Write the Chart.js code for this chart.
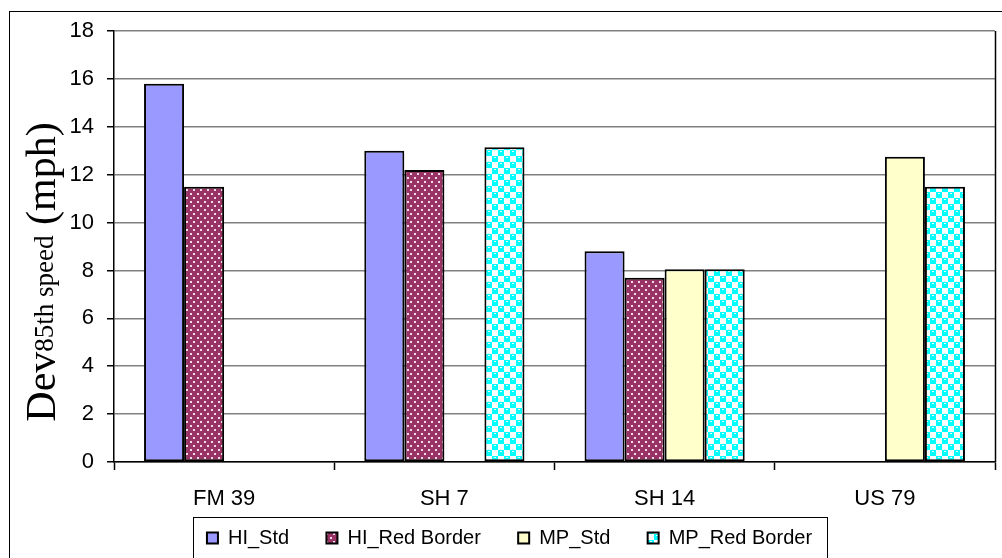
<!DOCTYPE html>
<html lang="en">
<head>
  <meta charset="UTF-8">
  <title>Dev 85th speed</title>
  <script src="https://cdn.jsdelivr.net/npm/chart.js"></script>
  <style>
    body { margin: 0; background: #fff; }
    #devChart { display: block; }
  </style>
</head>
<body>
<canvas id="devChart" width="1002" height="558"></canvas>
<script>
  const sites = ['FM 39', 'SH 7', 'SH 14', 'US 79'];
  const hiStd = [15.8, 13.0, 8.8, null];
  const hiRedBorder = [11.5, 12.2, 7.7, null];
  const mpStd = [null, null, 8.05, 12.75];
  const mpRedBorder = [null, 13.15, 8.05, 11.5];

  // extra room after each legend entry (in non-breaking spaces)
  const legendGaps = [6, 6, 6, 0];

  // maroon fill with small white dots
  function dotPattern() {
    const c = document.createElement('canvas');
    c.width = 7; c.height = 8;
    const g = c.getContext('2d');
    g.fillStyle = '#993366';
    g.fillRect(0, 0, 7, 8);
    g.fillStyle = '#f4dce8';
    g.fillRect(1, 1, 2, 2);
    g.fillRect(4, 5, 2, 2);
    return g.createPattern(c, 'repeat');
  }

  // cyan / white checks with little bubbles
  function bubblePattern() {
    const c = document.createElement('canvas');
    c.width = 12; c.height = 12;
    const g = c.getContext('2d');
    g.fillStyle = '#00ffff';
    g.fillRect(0, 0, 12, 12);
    g.fillStyle = '#ffffff';
    g.fillRect(6, 0, 6, 6);
    g.fillRect(0, 6, 6, 6);
    g.fillStyle = '#00ffff';
    g.beginPath(); g.arc(3, 3, 3.2, 0, Math.PI * 2); g.fill();
    g.beginPath(); g.arc(9, 9, 3.2, 0, Math.PI * 2); g.fill();
    g.fillStyle = '#e6ffff';
    g.fillRect(2, 1, 2, 1);
    g.fillRect(8, 7, 2, 1);
    return g.createPattern(c, 'repeat');
  }

  const sans = 'Liberation Sans, Arial, sans-serif';
  const serif = 'Liberation Serif, Times New Roman, serif';

  // y title with a subscript part, plus frames
  const decorations = {
    id: 'decorations',
    beforeDraw(chart) {
      const ctx = chart.ctx;
      ctx.save();
      ctx.fillStyle = '#fff';
      ctx.fillRect(0, 0, chart.width, chart.height);
      ctx.strokeStyle = '#000';
      ctx.lineWidth = 1;
      ctx.strokeRect(9.5, 11.5, chart.width + 20, chart.height + 20);
      ctx.restore();
    },
    afterDraw(chart) {
      const ctx = chart.ctx;
      const area = chart.chartArea;
      ctx.save();
      // right edge of plot area
      ctx.strokeStyle = '#000';
      ctx.lineWidth = 1.5;
      ctx.beginPath();
      ctx.moveTo(Math.round(area.right) + 0.5, area.top);
      ctx.lineTo(Math.round(area.right) + 0.5, area.bottom);
      ctx.stroke();

      // legend frame
      const boxes = chart.legend.legendHitBoxes;
      if (boxes.length) {
        const last = boxes[boxes.length - 1];
        const l = boxes[0].left - 14;
        const r = last.left + last.width + 15;
        const t = boxes[0].top - 11;
        const b = boxes[0].top + boxes[0].height + 10;
        ctx.lineWidth = 1;
        ctx.strokeRect(Math.round(l) + 0.5, Math.round(t) + 0.5, Math.round(r - l), Math.round(b - t));
      }

      // rotated axis title: "Dev" + small "85th speed" + "(mph)"
      const parts = [
        { text: 'Dev', font: '42px ' + serif, shift: 0 },
        { text: '85th speed', font: '27px ' + serif, shift: -2 },
        { text: ' (mph)', font: '42px ' + serif, shift: 0 }
      ];
      let total = 0;
      parts.forEach(p => { ctx.font = p.font; p.w = ctx.measureText(p.text).width; total += p.w; });
      ctx.translate(55, 272);
      ctx.rotate(-Math.PI / 2);
      ctx.fillStyle = '#000';
      ctx.textBaseline = 'alphabetic';
      let x = -total / 2;
      parts.forEach(p => {
        ctx.font = p.font;
        ctx.fillText(p.text, x, p.shift);
        x += p.w;
      });
      ctx.restore();
    }
  };

  const ctx = document.getElementById('devChart').getContext('2d');
  const chart = new Chart(ctx, {
    type: 'bar',
    data: {
      labels: sites,
      datasets: [
        { label: 'HI_Std', data: hiStd, backgroundColor: '#9999ff' },
        { label: 'HI_Red Border', data: hiRedBorder, backgroundColor: dotPattern() },
        { label: 'MP_Std', data: mpStd, backgroundColor: '#ffffcc' },
        { label: 'MP_Red Border', data: mpRedBorder, backgroundColor: bubblePattern() }
      ]
    },
    options: {
      responsive: false,
      animation: false,
      layout: { padding: { left: 24, right: 7, top: 31, bottom: 0 } },
      datasets: {
        bar: {
          borderColor: '#000',
          borderWidth: 2,
          categoryPercentage: 160 / 220,
          barPercentage: 1,
          borderSkipped: false
        }
      },
      scales: {
        x: {
          grid: {
            offset: true,
            drawOnChartArea: false,
            tickColor: '#000',
            tickLength: 8,
            tickWidth: 1.5
          },
          border: { color: '#000', width: 1.5 },
          ticks: { color: '#000', font: { family: sans, size: 22 }, padding: 16 },
          afterFit(scale) { scale.height = 62; }
        },
        y: {
          min: 0,
          max: 18,
          ticks: { stepSize: 2, color: '#000', font: { family: sans, size: 22 }, padding: 13 },
          grid: { color: '#808080', lineWidth: 1.5, tickColor: '#000', tickLength: 7 },
          border: { color: '#000', width: 1.5 },
          afterFit(scale) { scale.width = 90; }
        }
      },
      plugins: {
        legend: {
          position: 'bottom',
          maxHeight: 35,
          labels: {
            color: '#000',
            font: { family: sans, size: 20 },
            boxWidth: 11,
            boxHeight: 11,
            padding: 4,
            generateLabels(chart) {
              const items = Chart.defaults.plugins.legend.labels.generateLabels(chart);
              items.forEach((item, i) => { item.text += '\u00a0'.repeat(legendGaps[i]); });
              return items;
            }
          }
        },
        tooltip: { enabled: false }
      }
    },
    plugins: [decorations]
  });
</script>
</body>
</html>
